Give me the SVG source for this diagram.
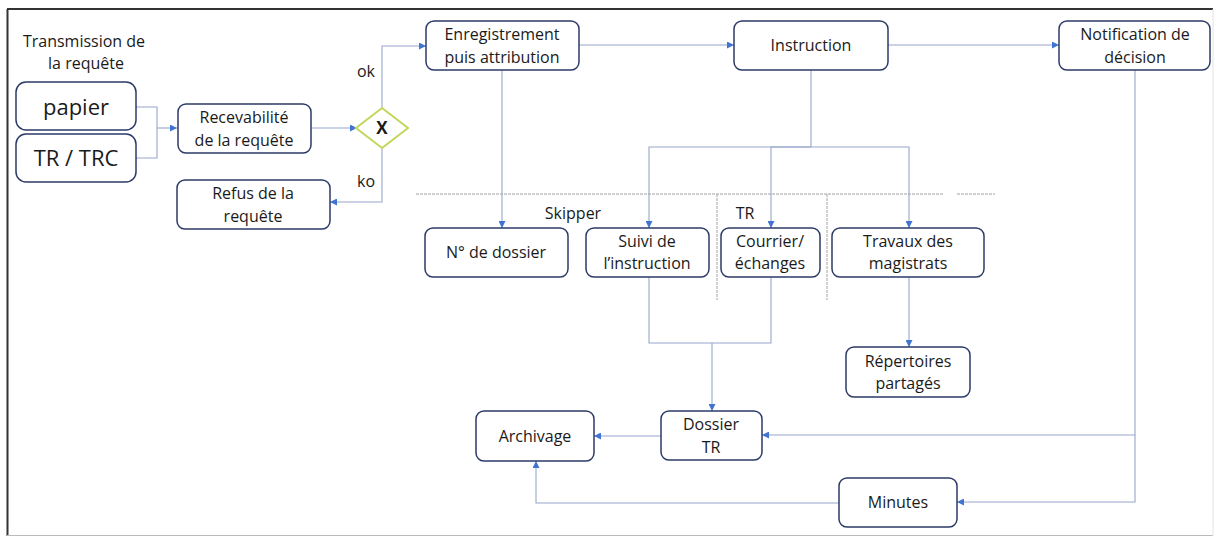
<svg xmlns="http://www.w3.org/2000/svg" width="1215" height="538" viewBox="0 0 1215 538">
<style>
.box{fill:#fff;stroke:#2c3a68;stroke-width:1.5}
.t{font-family:"Open Sans","Liberation Sans",sans-serif;font-size:16px;fill:#1a1a1a;text-anchor:middle}
.big{font-size:22px}
.c{fill:none;stroke:#97a6cc;stroke-width:1.1}
.sep{fill:none;stroke:#a3a3a3;stroke-width:1;stroke-dasharray:3 1}
</style>
<defs>
<marker id="arr" viewBox="0 0 8 8" refX="8" refY="4" markerWidth="7" markerHeight="7" orient="auto" markerUnits="userSpaceOnUse">
<path d="M0,0 L8,4 L0,8 z" fill="#3f74d0"/>
</marker>
</defs>
<rect x="0" y="0" width="1215" height="538" fill="#fff"/>
<g id="frame">
<line x1="7" y1="9" x2="1213" y2="9" stroke="#333" stroke-width="2"/>
<line x1="7.5" y1="9" x2="7.5" y2="536" stroke="#333" stroke-width="2"/>
<line x1="7" y1="535.5" x2="1213" y2="535.5" stroke="#bbb" stroke-width="1"/>
<line x1="1213" y1="9" x2="1213" y2="536" stroke="#e2e2e2" stroke-width="1"/>
</g>
<g id="connectors">
<path class="c" d="M136,107 H157 V158 H136"/>
<path class="c" d="M157,128 H177" marker-end="url(#arr)"/>
<path class="c" d="M311,128 H357" marker-end="url(#arr)"/>
<path class="c" d="M382,108 V46 H426" marker-end="url(#arr)"/>
<path class="c" d="M382,148 V202 H330" marker-end="url(#arr)"/>
<path class="c" d="M579,45 H734" marker-end="url(#arr)"/>
<path class="c" d="M888,45 H1059" marker-end="url(#arr)"/>
<path class="c" d="M502,70 V228" marker-end="url(#arr)"/>
<path class="c" d="M811,70 V147"/>
<path class="c" d="M811,147 H649 V228" marker-end="url(#arr)"/>
<path class="c" d="M811,147 H771 V228" marker-end="url(#arr)"/>
<path class="c" d="M811,147 H909 V228" marker-end="url(#arr)"/>
<path class="c" d="M649,277 V343 H771 V277"/>
<path class="c" d="M712,343 V411" marker-end="url(#arr)"/>
<path class="c" d="M909,277 V347" marker-end="url(#arr)"/>
<path class="c" d="M1135,70 V435 H762" marker-end="url(#arr)"/>
<path class="c" d="M1135,435 V502 H957" marker-end="url(#arr)"/>
<path class="c" d="M661,436 H594" marker-end="url(#arr)"/>
<path class="c" d="M839,503 H536 V461" marker-end="url(#arr)"/>
</g>
<g id="separators">
<path class="sep" d="M416,194 H943 M957,194 H995 M717,194 V300 M827,194 V300"/>
</g>
<g id="transmission">
<text class="t" x="84" y="47">Transmission de</text>
<text class="t" x="86" y="69">la requête</text>
</g>
<g id="papier"><rect class="box" x="16" y="82" width="120" height="48" rx="10"/><text class="t big" x="76" y="115">papier</text></g>
<g id="tr-trc"><rect class="box" x="16" y="134" width="120" height="48" rx="10"/><text class="t big" x="76" y="166">TR / TRC</text></g>
<g id="recevabilite"><rect class="box" x="178" y="104" width="133" height="49" rx="8"/><text class="t" x="244" y="123">Recevabilité</text><text class="t" x="244" y="146">de la requête</text></g>
<g id="gateway"><path d="M382,108 L408,128 L382,148 L356,128 Z" fill="#fff" stroke="#c5d65a" stroke-width="2"/><text class="t" x="382" y="134" style="font-weight:bold;font-size:17px">X</text></g>
<g id="labels-ok-ko"><text class="t" x="366" y="77">ok</text><text class="t" x="366" y="187">ko</text></g>
<g id="refus"><rect class="box" x="177" y="180" width="153" height="49" rx="8"/><text class="t" x="253" y="199">Refus de la</text><text class="t" x="253" y="222">requête</text></g>
<g id="enregistrement"><rect class="box" x="426" y="21" width="153" height="49" rx="8"/><text class="t" x="502" y="40">Enregistrement</text><text class="t" x="502" y="63">puis attribution</text></g>
<g id="instruction"><rect class="box" x="734" y="21" width="154" height="49" rx="8"/><text class="t" x="811" y="51">Instruction</text></g>
<g id="notification"><rect class="box" x="1059" y="21" width="151" height="49" rx="8"/><text class="t" x="1135" y="40">Notification de</text><text class="t" x="1135" y="63">décision</text></g>
<g id="lane-labels"><text class="t" x="573" y="219">Skipper</text><text class="t" x="745" y="219">TR</text></g>
<g id="dossier-no"><rect class="box" x="425" y="228" width="143" height="49" rx="8"/><text class="t" x="496" y="258">N° de dossier</text></g>
<g id="suivi"><rect class="box" x="586" y="228" width="123" height="49" rx="8"/><text class="t" x="647" y="247">Suivi de</text><text class="t" x="647" y="269">l’instruction</text></g>
<g id="courrier"><rect class="box" x="721" y="228" width="99" height="49" rx="8"/><text class="t" x="770" y="247">Courrier/</text><text class="t" x="770" y="269">échanges</text></g>
<g id="travaux"><rect class="box" x="832" y="228" width="152" height="49" rx="8"/><text class="t" x="908" y="247">Travaux des</text><text class="t" x="908" y="269">magistrats</text></g>
<g id="repertoires"><rect class="box" x="846" y="347" width="124" height="50" rx="8"/><text class="t" x="908" y="367">Répertoires</text><text class="t" x="908" y="389">partagés</text></g>
<g id="dossier-tr"><rect class="box" x="661" y="411" width="101" height="49" rx="8"/><text class="t" x="711" y="430">Dossier</text><text class="t" x="711" y="453">TR</text></g>
<g id="archivage"><rect class="box" x="476" y="411" width="118" height="50" rx="8"/><text class="t" x="535" y="442">Archivage</text></g>
<g id="minutes"><rect class="box" x="839" y="478" width="118" height="49" rx="8"/><text class="t" x="898" y="508">Minutes</text></g>
</svg>
